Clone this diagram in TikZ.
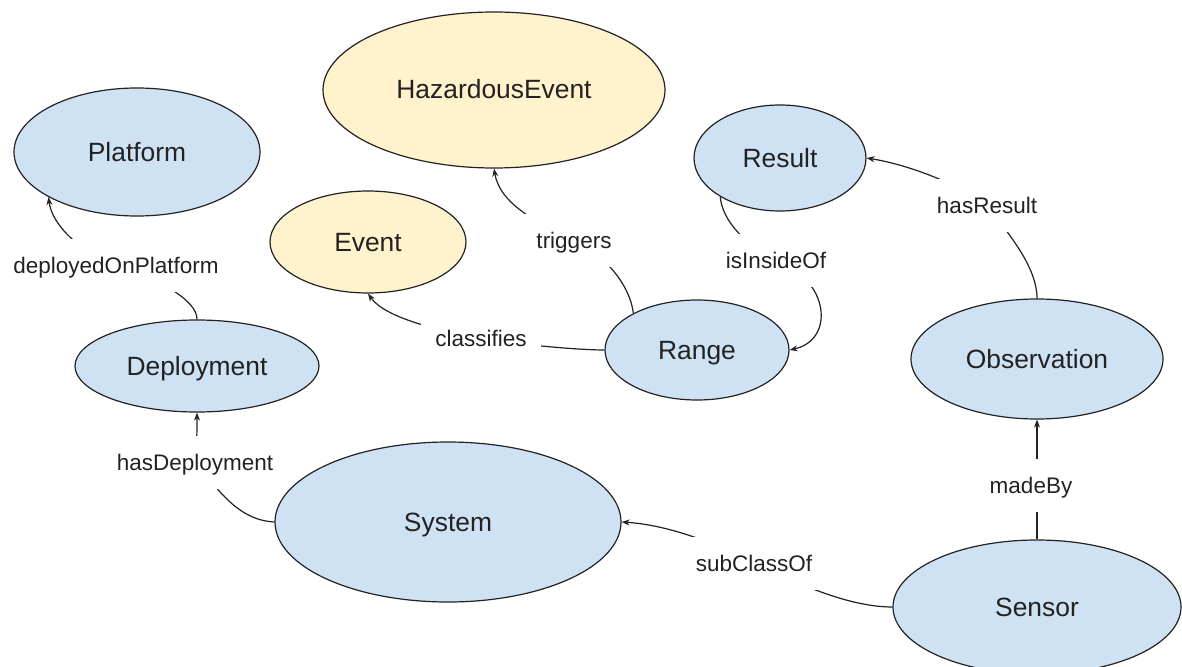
\documentclass[tikz,border=0pt]{standalone}
\usepackage{fontspec}
\setmainfont{Liberation Sans}
\usetikzlibrary{shapes.geometric,arrows.meta,backgrounds}
\definecolor{classblue}{HTML}{CFE2F3}
\definecolor{eventyellow}{HTML}{FFF2CC}
\definecolor{inkgray}{HTML}{222222}
\tikzset{
  cls/.style={ellipse, draw=inkgray, line width=1.2pt, fill=classblue,
    inner sep=0pt, text=inkgray, text height=18pt, text depth=0pt,
    font=\fontsize{26.4}{30}\selectfont},
  evt/.style={cls, fill=eventyellow},
  rel/.style={fill=white, inner xsep=14pt, inner ysep=16pt,
    text height=19pt, text depth=2pt, text=inkgray,
    font=\fontsize{22.5}{26}\selectfont},
  link/.style={draw=inkgray, line width=1.2pt,
    -{Stealth[length=8pt,width=6pt]}},
}
\begin{document}
\begin{tikzpicture}[x=1pt,y=-1pt]
\useasboundingbox (0,0) rectangle (1182,666);

% property labels (white boxes that interrupt the connectors)
\node[rel] (l-plat)  at (116,265)  {deployedOnPlatform};
\node[rel] (l-trig)  at (574,240)  {triggers};
\node[rel] (l-class) at (481,338)  {classifies};
\node[rel] (l-in)    at (776,260)  {isInsideOf};
\node[rel] (l-res)   at (987,205)  {hasResult};
\node[rel] (l-made)  at (1031,485) {madeBy};
\node[rel] (l-sub)   at (754,563)  {subClassOf};
\node[rel] (l-dep)   at (195,462)  {hasDeployment};

% classes
\node[cls, minimum width=246pt, minimum height=128pt] (plat) at (137,152)  {Platform};
\node[evt, minimum width=342pt, minimum height=156pt] (hz)   at (494,90)   {HazardousEvent};
\node[evt, minimum width=196pt, minimum height=102pt] (ev)   at (368,242)  {Event};
\node[cls, minimum width=172pt, minimum height=106pt] (res)  at (780,158)  {Result};
\node[cls, minimum width=184pt, minimum height=100pt] (ran)  at (697,350)  {Range};
\node[cls, minimum width=244pt, minimum height=92pt]  (dep)  at (197,366)  {Deployment};
\node[cls, minimum width=252pt, minimum height=120pt] (obs)  at (1037,359) {Observation};
\node[cls, minimum width=346pt, minimum height=160pt] (sys)  at (448,522)  {System};
\node[cls, minimum width=288pt, minimum height=134pt] (sen)  at (1037,607) {Sensor};

% relations, drawn beneath labels and classes
\begin{pgfonlayer}{background}
\fill[white] (0,0) rectangle (1182,666);
\draw[link] (dep.north) .. controls (197,300) and (160,280) .. (l-plat.center)
  .. controls (80,252) and (52,225) .. (plat.207);
\draw[link] (ran.150) .. controls (630,285) and (605,255) .. (l-trig.center)
  .. controls (540,224) and (500,205) .. (hz.south);
\draw[link] (ran.west) .. controls (580,350) and (520,345) .. (l-class.center)
  .. controls (440,331) and (385,318) .. (ev.south);
\draw[link] (res.213) .. controls (722,220) and (745,245) .. (l-in.center)
  .. controls (830,280) and (835,340) .. (ran.east);
\draw[link] (obs.north) .. controls (1037,265) and (1005,230) .. (l-res.center)
  .. controls (960,185) and (910,165) .. (res.east);
\draw[link] (sen.north) -- (obs.south);
\draw[link] (sen.west) .. controls (850,607) and (800,585) .. (l-sub.center)
  .. controls (720,545) and (670,525) .. (sys.east);
\draw[link] (sys.west) .. controls (240,520) and (222,495) .. (l-dep.center)
  .. controls (197,445) and (197,430) .. (dep.south);
\end{pgfonlayer}
\end{tikzpicture}
\end{document}
